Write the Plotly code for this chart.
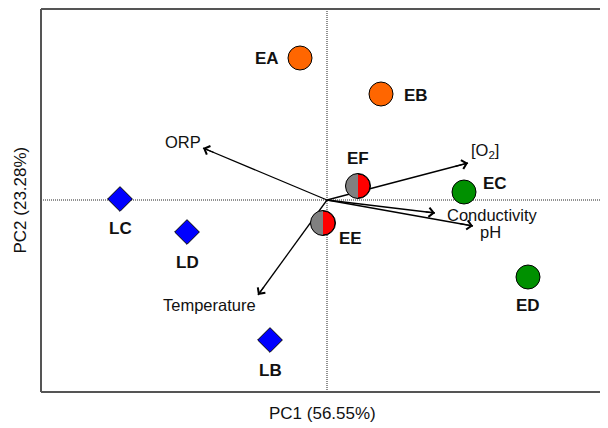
import plotly.graph_objects as go

# ---- data (PCA scores and loadings) ----
samples = ["EA", "EB", "EF", "EE", "EC", "ED", "LC", "LD", "LB"]
groups = ["orange", "orange", "half", "half", "green", "green", "blue", "blue", "blue"]
pc1 = [-0.27, 0.54, 0.31, -0.04, 1.37, 2.01, -2.07, -1.40, -0.57]
pc2 = [1.42, 1.06, 0.14, -0.23, 0.08, -0.77, 0.01, -0.32, -1.40]

variables = ["ORP", "[O<sub>2</sub>]", "Conductivity", "pH", "Temperature"]
load1 = [-1.24, 1.41, 1.08, 1.46, -0.69]
load2 = [0.52, 0.37, -0.13, -0.26, -0.95]

x_title = "PC1 (56.55%)"
y_title = "PC2 (23.28%)"

# ---- styles ----
FONT = "Liberation Sans, Arial, sans-serif"
label_shift = {  # pixel offsets of sample labels
    "EA": (-33, 0), "EB": (35, -1), "EF": (0, 28), "EE": (27, -15),
    "EC": (31, 9), "ED": (0, -28), "LC": (0, -29), "LD": (0, -30), "LB": (0, -30),
}
var_shift = [(-20, 6), (17, 12), (57, -2), (17, -6), (-49, -10)]
group_style = {
    "orange": dict(symbol="circle", size=24, color="#FF6600"),
    "green": dict(symbol="circle", size=24, color="#009000"),
    "blue": dict(symbol="diamond", size=19, color="#0000FF"),
    "half": dict(symbol="circle", size=24, color="#FF0000"),
}

fig = go.Figure()

# loading arrow shafts (below markers)
for v, a, b in zip(variables, load1, load2):
    fig.add_trace(go.Scatter(x=[0, a], y=[0, b], mode="lines",
                             line=dict(color="black", width=1.3),
                             hoverinfo="skip", showlegend=False))

# sample markers
for g, st in group_style.items():
    xs = [x for x, gg in zip(pc1, groups) if gg == g]
    ys = [y for y, gg in zip(pc2, groups) if gg == g]
    fig.add_trace(go.Scatter(x=xs, y=ys, mode="markers",
                             marker=dict(symbol=st["symbol"], size=st["size"], color=st["color"],
                                         line=dict(color="black", width=1)),
                             showlegend=False))

shapes = []
# dotted zero lines
dotted = dict(color="#222222", width=1, dash="1px,1px")
shapes.append(dict(type="line", xref="x", yref="paper", x0=0, x1=0, y0=0, y1=1,
                   line=dotted, layer="below"))
shapes.append(dict(type="line", xref="paper", yref="y", x0=0, x1=1, y0=0, y1=0,
                   line=dotted, layer="below"))
# half-gray markers
r = 12.5
k = 0.5523 * r
left_half = (f"M0,{r} C{-k},{r} {-r},{k} {-r},0 C{-r},{-k} {-k},{-r} 0,{-r} Z")
for s, x, y, g in zip(samples, pc1, pc2, groups):
    if g != "half":
        continue
    shapes.append(dict(type="path", xref="x", yref="y", xsizemode="pixel", ysizemode="pixel",
                       xanchor=x, yanchor=y, path=left_half, fillcolor="#808080",
                       line=dict(width=0), layer="above"))
    shapes.append(dict(type="circle", xref="x", yref="y", xsizemode="pixel", ysizemode="pixel",
                       xanchor=x, yanchor=y, x0=-r, x1=r, y0=-r, y1=r,
                       line=dict(color="black", width=1), layer="above"))
# frame (left, top, bottom)
frame = dict(color="#555555", width=2)
shapes.append(dict(type="line", xref="paper", yref="paper", x0=0, x1=0, y0=0, y1=1, line=frame))
shapes.append(dict(type="line", xref="paper", yref="paper", x0=0, x1=1.01, y0=1, y1=1, line=frame))
shapes.append(dict(type="line", xref="paper", yref="paper", x0=0, x1=1.01, y0=0, y1=0, line=frame))

annotations = []
# arrowheads
for a, b in zip(load1, load2):
    annotations.append(dict(x=a, y=b, xref="x", yref="y", ax=0.9 * a, ay=0.9 * b,
                            axref="x", ayref="y", showarrow=True, arrowhead=4,
                            arrowsize=1.5, arrowwidth=1.2, arrowcolor="black", text=""))
# variable labels
for v, a, b, (dx, dy) in zip(variables, load1, load2, var_shift):
    annotations.append(dict(x=a, y=b, xref="x", yref="y", text=v, showarrow=False,
                            xshift=dx, yshift=dy, font=dict(family=FONT, size=16.5, color="#111111")))
# sample labels
for s, x, y in zip(samples, pc1, pc2):
    dx, dy = label_shift[s]
    annotations.append(dict(x=x, y=y, xref="x", yref="y", text=f"<b>{s}</b>", showarrow=False,
                            xshift=dx, yshift=dy, font=dict(family=FONT, size=17, color="#111111")))
# axis titles
annotations.append(dict(x=0.497, y=0, xref="paper", yref="paper", yshift=-21, yanchor="middle",
                        text=x_title, showarrow=False, font=dict(family=FONT, size=17, color="#111111")))
annotations.append(dict(x=0, y=0.5, xref="paper", yref="paper", xshift=-21, xanchor="center",
                        text=y_title, textangle=-90, showarrow=False,
                        font=dict(family=FONT, size=17, color="#111111")))

# the page body has an 8px margin, so the figure is sized to fit the window from (8, 8)
fig.update_layout(
    width=600, height=420,
    margin=dict(l=33, r=0, t=1, b=36),
    paper_bgcolor="white", plot_bgcolor="white",
    xaxis=dict(range=[-2.86, 2.81], showgrid=False, zeroline=False, showticklabels=False,
               ticks="", showline=False),
    yaxis=dict(range=[-1.92, 1.91], showgrid=False, zeroline=False, showticklabels=False,
               ticks="", showline=False),
    shapes=shapes, annotations=annotations,
)

fig.write_html("out.html")
